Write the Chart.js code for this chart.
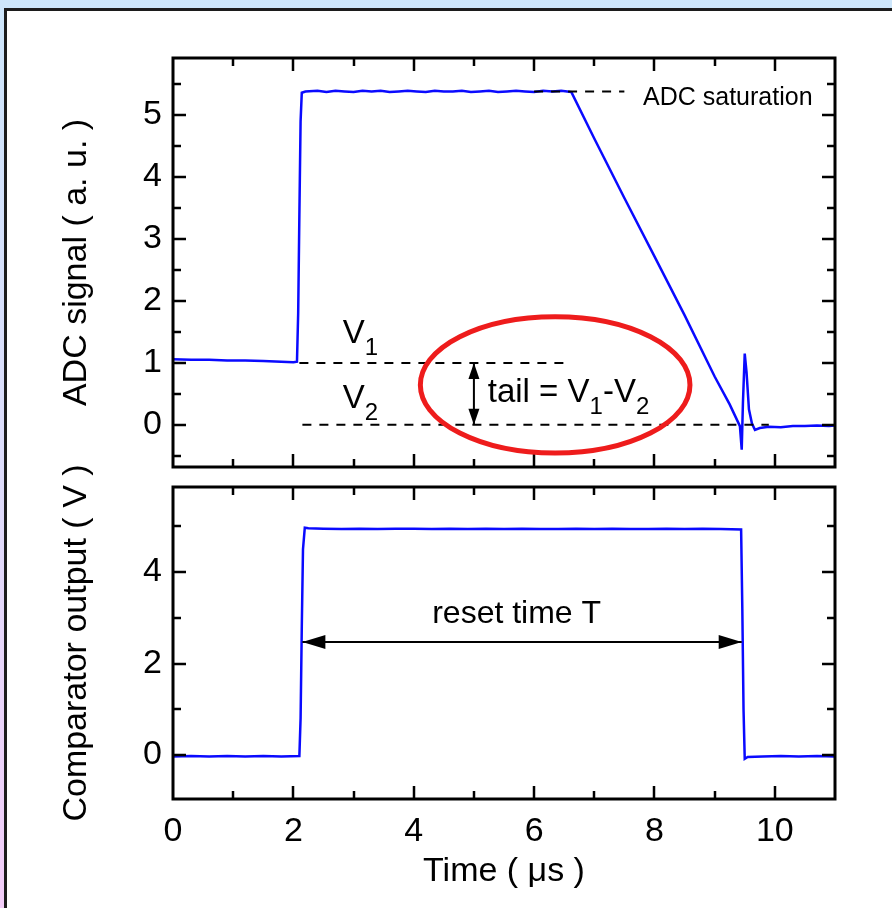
<!DOCTYPE html>
<html>
<head>
<meta charset="utf-8">
<title>ADC signal and comparator output</title>
<script src="https://cdn.jsdelivr.net/npm/chart.js@4.4.1/dist/chart.umd.min.js"></script>
<style>
body { margin: 0; }
#page {
    position: relative; width: 892px; height: 908px; overflow: hidden;
    background: linear-gradient(to bottom, #cde6fb 0%, #dcdcfa 50%, #f3cdf8 100%);
}
#panel {
    position: absolute; left: 4px; top: 8px; width: 920px; height: 920px;
    background: #fff; border-left: 3px solid #1c1c1c; border-top: 3px solid #1c1c1c;
}
canvas { position: absolute; left: 0; }
#adcChart { top: 40px; }
#compChart { top: 440px; }
</style>
</head>
<body>
<div id="page">
  <div id="panel"></div>
  <canvas id="adcChart" width="892" height="440"></canvas>
  <canvas id="compChart" width="892" height="468"></canvas>
</div>
<script>
// ADC trace (top panel)
const adcTime = [0, 0.3, 0.6, 0.9, 1.2, 1.5, 1.8,
    2.0, 2.06, 2.08, 2.1, 2.12, 2.14, 2.2,
    2.4, 2.55, 2.7, 2.85, 3.0, 3.15, 3.3, 3.45, 3.6, 3.75, 3.9, 4.05, 4.2, 4.35, 4.5,
    4.65, 4.8, 4.95, 5.1, 5.25, 5.4, 5.55, 5.7, 5.85, 6.0, 6.15, 6.3, 6.45,
    6.55, 6.62,
    7.0, 7.5, 8.0, 8.5, 9.0, 9.25, 9.42,
    9.45, 9.47, 9.5, 9.53, 9.57, 9.62, 9.67, 9.75, 9.9,
    10.1, 10.3, 10.5, 10.7, 10.9, 11.0];
const adcSignal = [1.06, 1.05, 1.05, 1.04, 1.04, 1.03, 1.02,
    1.01, 1.02, 1.8, 3.4, 4.9, 5.36, 5.38,
    5.39, 5.37, 5.39, 5.38, 5.37, 5.39, 5.38, 5.39, 5.37, 5.38, 5.39, 5.38, 5.37, 5.39, 5.38,
    5.38, 5.39, 5.37, 5.38, 5.39, 5.37, 5.38, 5.39, 5.38, 5.37, 5.39, 5.38, 5.39,
    5.38, 5.37,
    4.62, 3.66, 2.72, 1.77, 0.78, 0.33, -0.02,
    -0.4, 0.35, 1.15, 0.85, 0.25, 0.02, -0.08, -0.05, -0.03,
    -0.04, -0.02, -0.02, -0.01, -0.02, -0.01];

// comparator trace (bottom panel)
const compTime = [0, 0.3, 0.6, 0.9, 1.2, 1.5, 1.8,
    2.1, 2.12, 2.14, 2.16, 2.19, 2.25,
    2.5, 2.8, 3.1, 3.4, 3.7, 4.0, 4.3, 4.6, 4.9, 5.2, 5.5, 5.8,
    6.1, 6.4, 6.7, 7.0, 7.3, 7.6, 7.9, 8.2, 8.5, 8.8, 9.1,
    9.44, 9.46, 9.48, 9.5, 9.55,
    9.8, 10.1, 10.4, 10.7, 11.0];
const compOutput = [-0.03, -0.02, -0.03, -0.02, -0.03, -0.02, -0.03,
    -0.02, 0.8, 2.8, 4.5, 4.97, 4.96,
    4.95, 4.94, 4.95, 4.94, 4.95, 4.95, 4.94, 4.95, 4.94, 4.95, 4.94, 4.95,
    4.94, 4.94, 4.95, 4.94, 4.95, 4.94, 4.94, 4.95, 4.94, 4.95, 4.94,
    4.93, 3.2, 1.0, -0.08, -0.04,
    -0.03, -0.02, -0.03, -0.02, -0.03];

// reference lines and arrows
const satLineX = [6.0, 7.5], satLineY = [5.38, 5.38];
const v1LineX = [2.1, 6.5], v1LineY = [1, 1];
const v2LineX = [2.15, 9.9], v2LineY = [0, 0];
const tailArrowX = [5, 5], tailArrowY = [1, 0];
const resetArrowX = [2.15, 9.45], resetArrowY = [2.47, 2.47];

// tick values
const timeMinor = [1, 3, 5, 7, 9];
const adcMinor = [-0.5, 0.5, 1.5, 2.5, 3.5, 4.5, 5.5];
const compMinor = [1, 3, 5];

Chart.defaults.font.family = '"Liberation Sans", Arial, Helvetica, sans-serif';
Chart.defaults.color = '#000';

function toPoints(xs, ys) {
    return xs.map((v, i) => ({x: v, y: ys[i]}));
}

function lineSet(xs, ys, color, width, dash) {
    return {
        data: toPoints(xs, ys),
        showLine: true,
        borderColor: color,
        borderWidth: width,
        borderDash: dash || [],
        pointRadius: 0,
        fill: false,
        tension: 0
    };
}

// no extra room for the end labels, the plot area is set by the layout padding
function noLabelPadding(s) {
    s.paddingTop = 0;
    s.paddingBottom = 0;
    s.paddingLeft = 0;
    s.paddingRight = 0;
}

// frame round the plot area, ticks pointing inward on all four sides
const framePlugin = {
    id: 'frame',
    afterDatasetsDraw(chart, args, opts) {
        const {ctx, chartArea: a, scales} = chart;
        const marks = (scale, values, len) => {
            values.forEach(v => {
                const p = Math.round(scale.getPixelForValue(v));
                if (scale.isHorizontal()) {
                    if (p <= a.left + 2 || p >= a.right - 2) return;
                    ctx.moveTo(p, a.bottom); ctx.lineTo(p, a.bottom - len);
                    ctx.moveTo(p, a.top); ctx.lineTo(p, a.top + len);
                } else {
                    if (p <= a.top + 2 || p >= a.bottom - 2) return;
                    ctx.moveTo(a.left, p); ctx.lineTo(a.left + len, p);
                    ctx.moveTo(a.right, p); ctx.lineTo(a.right - len, p);
                }
            });
        };
        ctx.save();
        ctx.strokeStyle = '#000';
        ctx.lineWidth = 2.5;
        ctx.beginPath();
        marks(scales.x, scales.x.ticks.map(t => t.value), 13);
        marks(scales.x, opts.xMinor, 8);
        marks(scales.y, scales.y.ticks.map(t => t.value), 13);
        marks(scales.y, opts.yMinor, 8);
        ctx.stroke();
        ctx.lineWidth = 3;
        ctx.strokeRect(a.left, a.top, a.right - a.left, a.bottom - a.top);
        ctx.restore();
    }
};

function arrowHead(ctx, tip, from, len, half) {
    const dx = tip.x - from.x, dy = tip.y - from.y;
    const d = Math.hypot(dx, dy) || 1;
    const ux = dx / d, uy = dy / d;
    const bx = tip.x - ux * len, by = tip.y - uy * len;
    ctx.beginPath();
    ctx.moveTo(tip.x, tip.y);
    ctx.lineTo(bx - uy * half, by + ux * half);
    ctx.lineTo(bx + uy * half, by - ux * half);
    ctx.closePath();
    ctx.fill();
}

// text with subscripts, e.g. [['V'], ['1', true]]
function richText(ctx, parts, x, y, size, align) {
    const subSize = Math.round(size * 0.72);
    const font = s => s + 'px "Liberation Sans", Arial, sans-serif';
    let total = 0;
    parts.forEach(p => { ctx.font = font(p[1] ? subSize : size); total += ctx.measureText(p[0]).width; });
    let cx = align === 'center' ? x - total / 2 : x;
    ctx.textAlign = 'left';
    ctx.textBaseline = 'alphabetic';
    parts.forEach(p => {
        ctx.font = font(p[1] ? subSize : size);
        ctx.fillText(p[0], cx, p[1] ? y + size * 0.36 : y);
        cx += ctx.measureText(p[0]).width;
    });
}

const notesPlugin = {
    id: 'notes',
    afterDatasetsDraw(chart, args, opts) {
        const {ctx, scales: {x, y}} = chart;
        ctx.save();
        (opts.ellipses || []).forEach(e => {
            const cx = x.getPixelForValue(e.x), cy = y.getPixelForValue(e.y);
            const rx = x.getPixelForValue(e.x + e.rx) - cx;
            const ry = cy - y.getPixelForValue(e.y + e.ry);
            ctx.beginPath();
            ctx.ellipse(cx, cy, rx, ry, 0, 0, Math.PI * 2);
            ctx.strokeStyle = e.color;
            ctx.lineWidth = e.width;
            ctx.stroke();
        });
        ctx.fillStyle = '#000';
        (opts.arrows || []).forEach(a => {
            const pts = chart.getDatasetMeta(a.dataset).data;
            arrowHead(ctx, pts[0], pts[1], a.len, a.half);
            arrowHead(ctx, pts[1], pts[0], a.len, a.half);
        });
        (opts.texts || []).forEach(t => {
            richText(ctx, t.parts, x.getPixelForValue(t.x), y.getPixelForValue(t.y), t.size, t.align);
        });
        ctx.restore();
    }
};

function yScale(min, max, step, title) {
    return {
        type: 'linear', min: min, max: max,
        afterFit: s => { s.width = 173; noLabelPadding(s); },
        grid: {display: false, drawTicks: false},
        border: {display: false},
        ticks: {stepSize: step, includeBounds: false, padding: 11, font: {size: 34}},
        title: {display: true, text: title, font: {size: 34}, padding: {top: 56, bottom: 0}}
    };
}

new Chart(document.getElementById('adcChart'), {
    type: 'scatter',
    data: {
        datasets: [
            lineSet(satLineX, satLineY, '#000', 2, [9, 8]),
            lineSet(v1LineX, v1LineY, '#000', 2, [9, 8]),
            lineSet(v2LineX, v2LineY, '#000', 2, [9, 8]),
            lineSet(tailArrowX, tailArrowY, '#000', 2),
            lineSet(adcTime, adcSignal, '#0a0aff', 2.5)
        ]
    },
    options: {
        responsive: false,
        animation: false,
        devicePixelRatio: 1,
        layout: {padding: {top: 18, right: 57, bottom: 13, left: 0}},
        scales: {
            x: {
                type: 'linear', min: 0, max: 11,
                afterFit: s => { s.height = 0; noLabelPadding(s); },
                grid: {display: false, drawTicks: false},
                border: {display: false},
                ticks: {stepSize: 2, includeBounds: false, display: false}
            },
            y: yScale(-0.68, 5.92, 1, 'ADC signal ( a. u. )')
        },
        plugins: {
            legend: {display: false},
            tooltip: {enabled: false},
            frame: {xMinor: timeMinor, yMinor: adcMinor},
            notes: {
                ellipses: [{x: 6.35, y: 0.645, rx: 2.24, ry: 1.1, color: '#ee1c1c', width: 5}],
                arrows: [{dataset: 3, len: 16, half: 5.5}],
                texts: [
                    {parts: [['ADC saturation']], x: 7.81, y: 5.16, size: 25},
                    {parts: [['V'], ['1', true]], x: 2.82, y: 1.32, size: 33},
                    {parts: [['V'], ['2', true]], x: 2.82, y: 0.27, size: 33},
                    {parts: [['tail = V'], ['1', true], ['-V'], ['2', true]], x: 5.23, y: 0.37, size: 33}
                ]
            }
        }
    },
    plugins: [framePlugin, notesPlugin]
});

new Chart(document.getElementById('compChart'), {
    type: 'scatter',
    data: {
        datasets: [
            lineSet(resetArrowX, resetArrowY, '#000', 2),
            lineSet(compTime, compOutput, '#0a0aff', 2.5)
        ]
    },
    options: {
        responsive: false,
        animation: false,
        devicePixelRatio: 1,
        layout: {padding: {top: 47, right: 57, bottom: 0, left: 0}},
        scales: {
            x: {
                type: 'linear', min: 0, max: 11,
                afterFit: s => { s.height = 109; noLabelPadding(s); },
                grid: {display: false, drawTicks: false},
                border: {display: false},
                ticks: {stepSize: 2, includeBounds: false, padding: 12, maxRotation: 0, autoSkip: false, font: {size: 34}},
                title: {display: true, text: 'Time ( μs )', font: {size: 34}, padding: {top: 0, bottom: 16}}
            },
            y: yScale(-0.96, 5.86, 2, 'Comparator output ( V )')
        },
        plugins: {
            legend: {display: false},
            tooltip: {enabled: false},
            frame: {xMinor: timeMinor, yMinor: compMinor},
            notes: {
                arrows: [{dataset: 0, len: 23, half: 7}],
                texts: [
                    {parts: [['reset time T']], x: 5.71, y: 2.89, size: 32, align: 'center'}
                ]
            }
        }
    },
    plugins: [framePlugin, notesPlugin]
});
</script>
</body>
</html>
